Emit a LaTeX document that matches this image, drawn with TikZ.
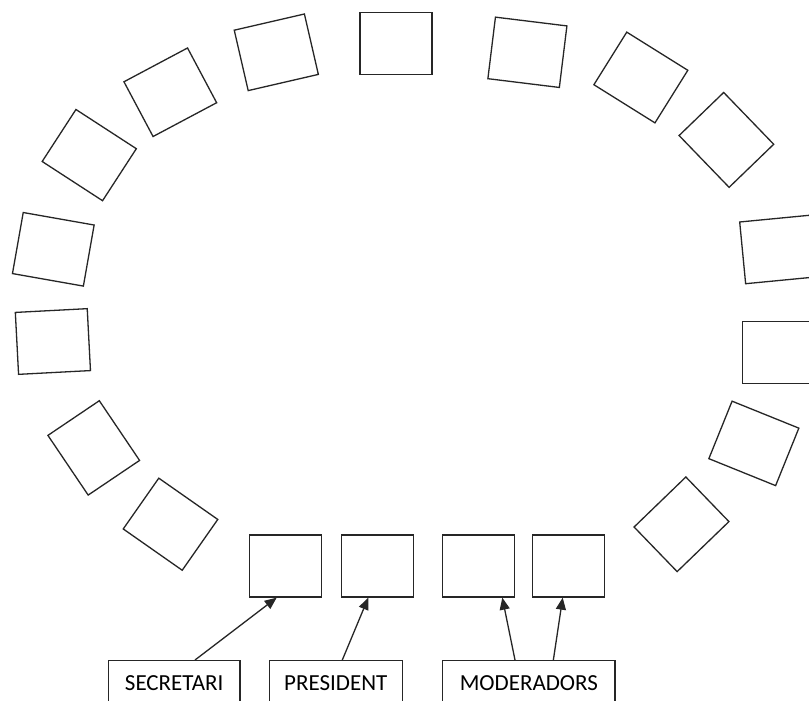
\documentclass[tikz,border=0pt]{standalone}
\usepackage{fontspec}
\setmainfont{Carlito}
\usetikzlibrary{arrows.meta}
\begin{document}
\begin{tikzpicture}[x=1pt,y=-1pt,
  seat/.style={draw=black!85,line width=1.3pt,minimum width=72pt,minimum height=62pt,inner sep=0pt},
  role/.style={draw=black!85,line width=1.3pt,minimum height=45pt,inner sep=0pt,anchor=north,
    font=\fontsize{23}{26}\selectfont},
  link/.style={draw=black!85,line width=1.3pt,-{Triangle[length=12pt,width=10pt]}}]
\clip (0,0) rectangle (809,701);
\fill[white] (0,0) rectangle (809,701);
% ring of seats
\node[seat,rotate=-33] (sA) at (89.25,155.1) {};
\node[seat,rotate=28]  (sB) at (170.3,92.25) {};
\node[seat,rotate=13]  (sC) at (276.3,52.3) {};
\node[seat]            (sD) at (396,43.5) {};
\node[seat,rotate=-7]  (sE) at (527.4,52.3) {};
\node[seat,rotate=-32] (sF) at (640.85,77.5) {};
\node[seat,rotate=-46] (sG) at (726.4,139.9) {};
\node[seat,rotate=-10] (sH) at (53.3,249.3) {};
\node[seat,rotate=3]   (sI) at (52.9,341.5) {};
\node[seat,rotate=-56] (sJ) at (93.75,447.9) {};
\node[seat,rotate=-35] (sK) at (170.5,524.2) {};
\node[seat,rotate=5.5] (sL) at (778.5,249.4) {};
\node[seat]            (sM) at (778.3,352.3) {};
\node[seat,rotate=-22] (sN) at (753.85,443.4) {};
\node[seat,rotate=44]  (sO) at (681.5,524.3) {};
% front table
\node[seat] (b1) at (285.5,566) {};
\node[seat] (b2) at (377.8,566) {};
\node[seat] (b3) at (478.7,566) {};
\node[seat] (b4) at (568.8,566) {};
% roles
\node[role,minimum width=131.7pt] (sec) at (174.2,660) {SECRETARI};
\node[role,minimum width=133pt]   (pre) at (335.8,660) {PRESIDENT};
\node[role,minimum width=172.3pt] (mod) at (528.85,660) {MODERADORS};
% arrows
\draw[link] ([xshift=20.8pt]sec.north) -- ([xshift=-8.8pt]b1.south);
\draw[link] ([xshift=6.5pt]pre.north) -- ([xshift=-9.5pt]b2.south);
\draw[link] ([xshift=-13.85pt]mod.north) -- ([xshift=23.6pt]b3.south);
\draw[link] ([xshift=24.5pt]mod.north) -- ([xshift=-6.1pt]b4.south);
\end{tikzpicture}
\end{document}
